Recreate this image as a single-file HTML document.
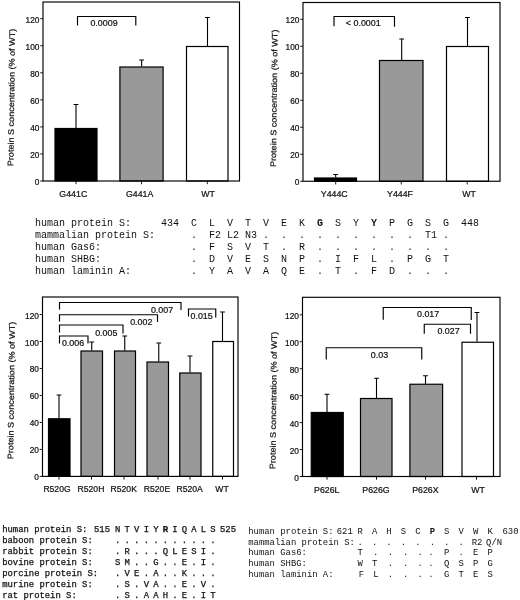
<!DOCTYPE html>
<html lang="en"><head><meta charset="utf-8"><title>Protein S concentration</title>
<style>
html,body{margin:0;padding:0;background:#fff}
body{width:520px;height:600px;overflow:hidden}
svg{display:block}
text{fill:#111}
.frame{fill:none;stroke:#000;stroke-width:1.15}
.bar{stroke:#000;stroke-width:1.2}
.err{fill:none;stroke:#000;stroke-width:1.1}
.tick{fill:none;stroke:#000;stroke-width:0.9}
.brk{fill:none;stroke:#000;stroke-width:1.15}
.yt,.xl,.bl,.ylab{stroke:#111;stroke-width:0.22}
.yt{font:8.3px "Liberation Sans", sans-serif;text-anchor:end}
.xl{font:8.8px "Liberation Sans", sans-serif;text-anchor:middle}
.bl{font:8.9px "Liberation Sans", sans-serif;text-anchor:middle}
.xl.s{font-size:8.6px}
.ylab{font:8.12px "Liberation Sans", sans-serif;text-anchor:middle}
.m1{font:10px "Liberation Mono", monospace}
.m2{font:8.9px "Liberation Mono", monospace;stroke:#111;stroke-width:0.25}
.m3{font:8.9px "Liberation Mono", monospace}
.c{text-anchor:middle}
.b{font-weight:bold}
</style></head>
<body>
<svg width="520" height="600" viewBox="0 0 520 600">
<rect width="520" height="600" fill="#fff"/>
<g class="chart">
<path class="err" d="M76 128V104.5M73.6 104.5H78.4"/>
<rect class="bar" x="55" y="128.5" width="42" height="52.5" fill="#000"/>
<path class="err" d="M141.6 66.5V60M139.2 60H144"/>
<rect class="bar" x="119.9" y="67" width="43.2" height="114" fill="#999"/>
<path class="err" d="M207.5 46V17.5M205.1 17.5H209.9"/>
<rect class="bar" x="186.5" y="46.5" width="41.5" height="134.5" fill="#fff"/>
<rect class="frame" x="43" y="2" width="196.5" height="179"/>
<path class="tick" d="M40.2 181H43"/>
<text class="yt" x="39.4" y="185">0</text>
<path class="tick" d="M40.2 153.95H43"/>
<text class="yt" x="39.4" y="157.95">20</text>
<path class="tick" d="M40.2 126.9H43"/>
<text class="yt" x="39.4" y="130.9">40</text>
<path class="tick" d="M40.2 99.85H43"/>
<text class="yt" x="39.4" y="103.85">60</text>
<path class="tick" d="M40.2 72.8H43"/>
<text class="yt" x="39.4" y="76.8">80</text>
<path class="tick" d="M40.2 45.75H43"/>
<text class="yt" x="39.4" y="49.75">100</text>
<path class="tick" d="M40.2 18.7H43"/>
<text class="yt" x="39.4" y="22.7">120</text>
<path class="tick" d="M76 181V184.2"/>
<text class="xl" x="73.3" y="197">G441C</text>
<path class="tick" d="M141.5 181V184.2"/>
<text class="xl" x="139.6" y="197">G441A</text>
<path class="tick" d="M207.3 181V184.2"/>
<text class="xl" x="208" y="197">WT</text>
<path class="brk" d="M77.5 25.5V16.5H135.8V25.5"/>
<text class="bl" x="104" y="25.6">0.0009</text>
<text class="ylab" transform="translate(14.2 97.5) rotate(-89.3) scale(1.117 1)">Protein S concentration (% of WT)</text>
</g>
<g class="chart">
<path class="err" d="M335.7 177.5V174.5M333.3 174.5H338.1"/>
<rect class="bar" x="314.5" y="178" width="42" height="3.25" fill="#000"/>
<path class="err" d="M401.7 60V39M399.3 39H404.1"/>
<rect class="bar" x="379.5" y="60.5" width="43.5" height="120.75" fill="#999"/>
<path class="err" d="M467.5 46V17.5M465.1 17.5H469.9"/>
<rect class="bar" x="446.5" y="46.5" width="42" height="134.75" fill="#fff"/>
<rect class="frame" x="303" y="2.5" width="197" height="178.75"/>
<path class="tick" d="M300.2 181.25H303"/>
<text class="yt" x="299.4" y="185.25">0</text>
<path class="tick" d="M300.2 154.25H303"/>
<text class="yt" x="299.4" y="158.25">20</text>
<path class="tick" d="M300.2 127.25H303"/>
<text class="yt" x="299.4" y="131.25">40</text>
<path class="tick" d="M300.2 100.25H303"/>
<text class="yt" x="299.4" y="104.25">60</text>
<path class="tick" d="M300.2 73.25H303"/>
<text class="yt" x="299.4" y="77.25">80</text>
<path class="tick" d="M300.2 46.25H303"/>
<text class="yt" x="299.4" y="50.25">100</text>
<path class="tick" d="M300.2 19.25H303"/>
<text class="yt" x="299.4" y="23.25">120</text>
<path class="tick" d="M335.7 181.25V184.45"/>
<text class="xl" x="334.25" y="197">Y444C</text>
<path class="tick" d="M401.25 181.25V184.45"/>
<text class="xl" x="400" y="197">Y444F</text>
<path class="tick" d="M467.2 181.25V184.45"/>
<text class="xl" x="469" y="197">WT</text>
<path class="brk" d="M334 26.3V16.5H394.5V26.7"/>
<text class="bl" x="363.25" y="25.8">&lt; 0.0001</text>
<text class="ylab" transform="translate(276.8 98.3) rotate(-89.3) scale(1.117 1)">Protein S concentration (% of WT)</text>
</g>
<g class="chart">
<path class="err" d="M59 418.25V395M56.6 395H61.4"/>
<rect class="bar" x="48.5" y="418.75" width="21.5" height="57.65" fill="#000"/>
<path class="err" d="M91.75 350.5V342M89.35 342H94.15"/>
<rect class="bar" x="81" y="351" width="21.5" height="125.4" fill="#999"/>
<path class="err" d="M124.75 350.5V336M122.35 336H127.15"/>
<rect class="bar" x="114.5" y="351" width="21" height="125.4" fill="#999"/>
<path class="err" d="M158.75 361.5V343M156.35 343H161.15"/>
<rect class="bar" x="147" y="362" width="21.5" height="114.4" fill="#999"/>
<path class="err" d="M190 372.5V356M187.6 356H192.4"/>
<rect class="bar" x="179.75" y="373" width="21.25" height="103.4" fill="#999"/>
<path class="err" d="M222.5 341V312M220.1 312H224.9"/>
<rect class="bar" x="212.75" y="341.5" width="20.75" height="134.9" fill="#fff"/>
<rect class="frame" x="42.5" y="297" width="195.5" height="179.4"/>
<path class="tick" d="M39.7 476.4H42.5"/>
<text class="yt" x="38.9" y="480.4">0</text>
<path class="tick" d="M39.7 449.42H42.5"/>
<text class="yt" x="38.9" y="453.42">20</text>
<path class="tick" d="M39.7 422.44H42.5"/>
<text class="yt" x="38.9" y="426.44">40</text>
<path class="tick" d="M39.7 395.46H42.5"/>
<text class="yt" x="38.9" y="399.46">60</text>
<path class="tick" d="M39.7 368.48H42.5"/>
<text class="yt" x="38.9" y="372.48">80</text>
<path class="tick" d="M39.7 341.5H42.5"/>
<text class="yt" x="38.9" y="345.5">100</text>
<path class="tick" d="M39.7 314.52H42.5"/>
<text class="yt" x="38.9" y="318.52">120</text>
<path class="tick" d="M59 476.4V479.6"/>
<text class="xl s" x="57" y="492">R520G</text>
<path class="tick" d="M91.5 476.4V479.6"/>
<text class="xl s" x="91" y="492">R520H</text>
<path class="tick" d="M124 476.4V479.6"/>
<text class="xl s" x="123.75" y="492">R520K</text>
<path class="tick" d="M158 476.4V479.6"/>
<text class="xl s" x="157" y="492">R520E</text>
<path class="tick" d="M190 476.4V479.6"/>
<text class="xl s" x="189.6" y="492">R520A</text>
<path class="tick" d="M222.5 476.4V479.6"/>
<text class="xl s" x="222" y="492">WT</text>
<path class="brk" d="M59.5 309.5V302.5H181V310"/>
<text class="bl" x="162" y="312.5">0.007</text>
<path class="brk" d="M59.5 321.5V314.75H157.5V322"/>
<text class="bl" x="141.25" y="324.5">0.002</text>
<path class="brk" d="M59.5 332.5V325H123V333.5"/>
<text class="bl" x="106.25" y="335.5">0.005</text>
<path class="brk" d="M59.5 343.5V336H88V343.5"/>
<text class="bl" x="73" y="345.75">0.006</text>
<path class="brk" d="M188.5 316.5V309H215.75V317.5"/>
<text class="bl" x="201.6" y="318.75">0.015</text>
<text class="ylab" transform="translate(14 390.5) rotate(-89.3) scale(1.117 1)">Protein S concentration (% of WT)</text>
</g>
<g class="chart">
<path class="err" d="M327 412V394.25M324.6 394.25H329.4"/>
<rect class="bar" x="311.25" y="412.5" width="32" height="64" fill="#000"/>
<path class="err" d="M376.5 398V378.25M374.1 378.25H378.9"/>
<rect class="bar" x="360.5" y="398.5" width="31.5" height="78" fill="#999"/>
<path class="err" d="M425.5 383.75V375.75M423.1 375.75H427.9"/>
<rect class="bar" x="409.9" y="384.25" width="32.7" height="92.25" fill="#999"/>
<path class="err" d="M477 341.75V312.5M474.6 312.5H479.4"/>
<rect class="bar" x="462" y="342.25" width="31.5" height="134.25" fill="#fff"/>
<rect class="frame" x="302.5" y="297.3" width="197.5" height="179.2"/>
<path class="tick" d="M299.7 476.5H302.5"/>
<text class="yt" x="298.9" y="480.5">0</text>
<path class="tick" d="M299.7 449.55H302.5"/>
<text class="yt" x="298.9" y="453.55">20</text>
<path class="tick" d="M299.7 422.6H302.5"/>
<text class="yt" x="298.9" y="426.6">40</text>
<path class="tick" d="M299.7 395.65H302.5"/>
<text class="yt" x="298.9" y="399.65">60</text>
<path class="tick" d="M299.7 368.7H302.5"/>
<text class="yt" x="298.9" y="372.7">80</text>
<path class="tick" d="M299.7 341.75H302.5"/>
<text class="yt" x="298.9" y="345.75">100</text>
<path class="tick" d="M299.7 314.8H302.5"/>
<text class="yt" x="298.9" y="318.8">120</text>
<path class="tick" d="M327 476.5V479.7"/>
<text class="xl" x="326.8" y="492.5">P626L</text>
<path class="tick" d="M376.5 476.5V479.7"/>
<text class="xl" x="376" y="492.5">P626G</text>
<path class="tick" d="M425.5 476.5V479.7"/>
<text class="xl" x="425.4" y="492.5">P626X</text>
<path class="tick" d="M476.5 476.5V479.7"/>
<text class="xl" x="478" y="492.5">WT</text>
<path class="brk" d="M326.25 359.5V347.75H421.75V359.5"/>
<text class="bl" x="379.5" y="357.6">0.03</text>
<path class="brk" d="M383.25 319.75V307.5H471.25V320"/>
<text class="bl" x="428.1" y="317">0.017</text>
<path class="brk" d="M424.25 333.75V324.25H470.5V333.75"/>
<text class="bl" x="448.5" y="334.25">0.027</text>
<text class="ylab" transform="translate(276.2 400.5) rotate(-89.3) scale(1.117 1)">Protein S concentration (% of WT)</text>
</g>
<text class="m1" x="34.9" y="225.5">human protein S:</text>
<text class="m1 c" x="193.9" y="225.5">C</text>
<text class="m1 c" x="211.9" y="225.5">L</text>
<text class="m1 c" x="229.9" y="225.5">V</text>
<text class="m1 c" x="247.9" y="225.5">T</text>
<text class="m1 c" x="265.9" y="225.5">V</text>
<text class="m1 c" x="283.9" y="225.5">E</text>
<text class="m1 c" x="301.9" y="225.5">K</text>
<text class="m1 c b" x="319.9" y="225.5">G</text>
<text class="m1 c" x="337.9" y="225.5">S</text>
<text class="m1 c" x="355.9" y="225.5">Y</text>
<text class="m1 c b" x="373.9" y="225.5">Y</text>
<text class="m1 c" x="391.9" y="225.5">P</text>
<text class="m1 c" x="409.9" y="225.5">G</text>
<text class="m1 c" x="427.9" y="225.5">S</text>
<text class="m1 c" x="445.9" y="225.5">G</text>
<text class="m1 c" x="169.9" y="225.5">434</text>
<text class="m1 c" x="469.9" y="225.5">448</text>
<text class="m1" x="34.9" y="237.7">mammalian protein S:</text>
<text class="m1 c" x="193.9" y="237.7">.</text>
<text class="m1 c" x="214.9" y="237.7">F2</text>
<text class="m1 c" x="232.9" y="237.7">L2</text>
<text class="m1 c" x="250.9" y="237.7">N3</text>
<text class="m1 c" x="265.9" y="237.7">.</text>
<text class="m1 c" x="283.9" y="237.7">.</text>
<text class="m1 c" x="301.9" y="237.7">.</text>
<text class="m1 c" x="319.9" y="237.7">.</text>
<text class="m1 c" x="337.9" y="237.7">.</text>
<text class="m1 c" x="355.9" y="237.7">.</text>
<text class="m1 c" x="373.9" y="237.7">.</text>
<text class="m1 c" x="391.9" y="237.7">.</text>
<text class="m1 c" x="409.9" y="237.7">.</text>
<text class="m1 c" x="430.9" y="237.7">T1</text>
<text class="m1 c" x="445.9" y="237.7">.</text>
<text class="m1" x="34.9" y="250">human Gas6:</text>
<text class="m1 c" x="193.9" y="250">.</text>
<text class="m1 c" x="211.9" y="250">F</text>
<text class="m1 c" x="229.9" y="250">S</text>
<text class="m1 c" x="247.9" y="250">V</text>
<text class="m1 c" x="265.9" y="250">T</text>
<text class="m1 c" x="283.9" y="250">.</text>
<text class="m1 c" x="301.9" y="250">R</text>
<text class="m1 c" x="319.9" y="250">.</text>
<text class="m1 c" x="337.9" y="250">.</text>
<text class="m1 c" x="355.9" y="250">.</text>
<text class="m1 c" x="373.9" y="250">.</text>
<text class="m1 c" x="391.9" y="250">.</text>
<text class="m1 c" x="409.9" y="250">.</text>
<text class="m1 c" x="427.9" y="250">.</text>
<text class="m1 c" x="445.9" y="250">.</text>
<text class="m1" x="34.9" y="262">human SHBG:</text>
<text class="m1 c" x="193.9" y="262">.</text>
<text class="m1 c" x="211.9" y="262">D</text>
<text class="m1 c" x="229.9" y="262">V</text>
<text class="m1 c" x="247.9" y="262">E</text>
<text class="m1 c" x="265.9" y="262">S</text>
<text class="m1 c" x="283.9" y="262">N</text>
<text class="m1 c" x="301.9" y="262">P</text>
<text class="m1 c" x="319.9" y="262">.</text>
<text class="m1 c" x="337.9" y="262">I</text>
<text class="m1 c" x="355.9" y="262">F</text>
<text class="m1 c" x="373.9" y="262">L</text>
<text class="m1 c" x="391.9" y="262">.</text>
<text class="m1 c" x="409.9" y="262">P</text>
<text class="m1 c" x="427.9" y="262">G</text>
<text class="m1 c" x="445.9" y="262">T</text>
<text class="m1" x="34.9" y="274">human laminin A:</text>
<text class="m1 c" x="193.9" y="274">.</text>
<text class="m1 c" x="211.9" y="274">Y</text>
<text class="m1 c" x="229.9" y="274">A</text>
<text class="m1 c" x="247.9" y="274">V</text>
<text class="m1 c" x="265.9" y="274">A</text>
<text class="m1 c" x="283.9" y="274">Q</text>
<text class="m1 c" x="301.9" y="274">E</text>
<text class="m1 c" x="319.9" y="274">.</text>
<text class="m1 c" x="337.9" y="274">T</text>
<text class="m1 c" x="355.9" y="274">.</text>
<text class="m1 c" x="373.9" y="274">F</text>
<text class="m1 c" x="391.9" y="274">D</text>
<text class="m1 c" x="409.9" y="274">.</text>
<text class="m1 c" x="427.9" y="274">.</text>
<text class="m1 c" x="445.9" y="274">.</text>
<text class="m2" x="2.2" y="532">human protein S:</text>
<text class="m2 c" x="117.7" y="532">N</text>
<text class="m2 c" x="127.23" y="532">T</text>
<text class="m2 c" x="136.76" y="532">V</text>
<text class="m2 c" x="146.29" y="532">I</text>
<text class="m2 c" x="155.82" y="532">Y</text>
<text class="m2 c b" x="165.35" y="532">R</text>
<text class="m2 c" x="174.88" y="532">I</text>
<text class="m2 c" x="184.41" y="532">Q</text>
<text class="m2 c" x="193.94" y="532">A</text>
<text class="m2 c" x="203.47" y="532">L</text>
<text class="m2 c" x="213" y="532">S</text>
<text class="m2 c" x="102" y="532">515</text>
<text class="m2 c" x="228" y="532">525</text>
<text class="m2" x="2.2" y="543">baboon protein S:</text>
<text class="m2 c" x="117.7" y="543">.</text>
<text class="m2 c" x="127.23" y="543">.</text>
<text class="m2 c" x="136.76" y="543">.</text>
<text class="m2 c" x="146.29" y="543">.</text>
<text class="m2 c" x="155.82" y="543">.</text>
<text class="m2 c" x="165.35" y="543">.</text>
<text class="m2 c" x="174.88" y="543">.</text>
<text class="m2 c" x="184.41" y="543">.</text>
<text class="m2 c" x="193.94" y="543">.</text>
<text class="m2 c" x="203.47" y="543">.</text>
<text class="m2 c" x="213" y="543">.</text>
<text class="m2" x="2.2" y="554">rabbit protein S:</text>
<text class="m2 c" x="117.7" y="554">.</text>
<text class="m2 c" x="127.23" y="554">R</text>
<text class="m2 c" x="136.76" y="554">.</text>
<text class="m2 c" x="146.29" y="554">.</text>
<text class="m2 c" x="155.82" y="554">.</text>
<text class="m2 c" x="165.35" y="554">Q</text>
<text class="m2 c" x="174.88" y="554">L</text>
<text class="m2 c" x="184.41" y="554">E</text>
<text class="m2 c" x="193.94" y="554">S</text>
<text class="m2 c" x="203.47" y="554">I</text>
<text class="m2 c" x="213" y="554">.</text>
<text class="m2" x="2.2" y="564.7">bovine protein S:</text>
<text class="m2 c" x="117.7" y="564.7">S</text>
<text class="m2 c" x="127.23" y="564.7">M</text>
<text class="m2 c" x="136.76" y="564.7">.</text>
<text class="m2 c" x="146.29" y="564.7">.</text>
<text class="m2 c" x="155.82" y="564.7">G</text>
<text class="m2 c" x="165.35" y="564.7">.</text>
<text class="m2 c" x="174.88" y="564.7">.</text>
<text class="m2 c" x="184.41" y="564.7">E</text>
<text class="m2 c" x="193.94" y="564.7">.</text>
<text class="m2 c" x="203.47" y="564.7">I</text>
<text class="m2 c" x="213" y="564.7">.</text>
<text class="m2" x="2.2" y="575.7">porcine protein S:</text>
<text class="m2 c" x="117.7" y="575.7">.</text>
<text class="m2 c" x="127.23" y="575.7">V</text>
<text class="m2 c" x="136.76" y="575.7">E</text>
<text class="m2 c" x="146.29" y="575.7">.</text>
<text class="m2 c" x="155.82" y="575.7">A</text>
<text class="m2 c" x="165.35" y="575.7">.</text>
<text class="m2 c" x="174.88" y="575.7">.</text>
<text class="m2 c" x="184.41" y="575.7">K</text>
<text class="m2 c" x="193.94" y="575.7">.</text>
<text class="m2 c" x="203.47" y="575.7">.</text>
<text class="m2 c" x="213" y="575.7">.</text>
<text class="m2" x="2.2" y="586.7">murine protein S:</text>
<text class="m2 c" x="117.7" y="586.7">.</text>
<text class="m2 c" x="127.23" y="586.7">S</text>
<text class="m2 c" x="136.76" y="586.7">.</text>
<text class="m2 c" x="146.29" y="586.7">V</text>
<text class="m2 c" x="155.82" y="586.7">A</text>
<text class="m2 c" x="165.35" y="586.7">.</text>
<text class="m2 c" x="174.88" y="586.7">.</text>
<text class="m2 c" x="184.41" y="586.7">E</text>
<text class="m2 c" x="193.94" y="586.7">.</text>
<text class="m2 c" x="203.47" y="586.7">V</text>
<text class="m2 c" x="213" y="586.7">.</text>
<text class="m2" x="2.2" y="597.7">rat protein S:</text>
<text class="m2 c" x="117.7" y="597.7">.</text>
<text class="m2 c" x="127.23" y="597.7">S</text>
<text class="m2 c" x="136.76" y="597.7">.</text>
<text class="m2 c" x="146.29" y="597.7">A</text>
<text class="m2 c" x="155.82" y="597.7">A</text>
<text class="m2 c" x="165.35" y="597.7">H</text>
<text class="m2 c" x="174.88" y="597.7">.</text>
<text class="m2 c" x="184.41" y="597.7">E</text>
<text class="m2 c" x="193.94" y="597.7">.</text>
<text class="m2 c" x="203.47" y="597.7">I</text>
<text class="m2 c" x="213" y="597.7">T</text>
<text class="m3" x="248.3" y="533.8">human protein S:</text>
<text class="m3 c" x="360.1" y="533.8">R</text>
<text class="m3 c" x="374.54" y="533.8">A</text>
<text class="m3 c" x="388.98" y="533.8">H</text>
<text class="m3 c" x="403.42" y="533.8">S</text>
<text class="m3 c" x="417.86" y="533.8">C</text>
<text class="m3 c b" x="432.3" y="533.8">P</text>
<text class="m3 c" x="446.74" y="533.8">S</text>
<text class="m3 c" x="461.18" y="533.8">V</text>
<text class="m3 c" x="475.62" y="533.8">W</text>
<text class="m3 c" x="490.06" y="533.8">K</text>
<text class="m3 c" x="344.8" y="533.8">621</text>
<text class="m3 c" x="510.5" y="533.8">630</text>
<text class="m3" x="248.3" y="544.6">mammalian protein S:</text>
<text class="m3 c" x="360.1" y="544.6">.</text>
<text class="m3 c" x="374.54" y="544.6">.</text>
<text class="m3 c" x="388.98" y="544.6">.</text>
<text class="m3 c" x="403.42" y="544.6">.</text>
<text class="m3 c" x="417.86" y="544.6">.</text>
<text class="m3 c" x="432.3" y="544.6">.</text>
<text class="m3 c" x="446.74" y="544.6">.</text>
<text class="m3 c" x="461.18" y="544.6">.</text>
<text class="m3 c" x="477.12" y="544.6">R2</text>
<text class="m3 c" x="494.06" y="544.6">Q/N</text>
<text class="m3" x="248.3" y="555.4">human Gas6:</text>
<text class="m3 c" x="360.1" y="555.4">T</text>
<text class="m3 c" x="375.74" y="555.4">.</text>
<text class="m3 c" x="390.48" y="555.4">.</text>
<text class="m3 c" x="405.62" y="555.4">.</text>
<text class="m3 c" x="420.06" y="555.4">.</text>
<text class="m3 c" x="430.8" y="555.4">.</text>
<text class="m3 c" x="446.74" y="555.4">P</text>
<text class="m3 c" x="461.18" y="555.4">.</text>
<text class="m3 c" x="475.62" y="555.4">E</text>
<text class="m3 c" x="490.06" y="555.4">P</text>
<text class="m3" x="248.3" y="566.2">human SHBG:</text>
<text class="m3 c" x="360.1" y="566.2">W</text>
<text class="m3 c" x="374.54" y="566.2">T</text>
<text class="m3 c" x="390.48" y="566.2">.</text>
<text class="m3 c" x="405.62" y="566.2">.</text>
<text class="m3 c" x="420.06" y="566.2">.</text>
<text class="m3 c" x="430.8" y="566.2">.</text>
<text class="m3 c" x="446.74" y="566.2">Q</text>
<text class="m3 c" x="461.18" y="566.2">S</text>
<text class="m3 c" x="475.62" y="566.2">P</text>
<text class="m3 c" x="490.06" y="566.2">G</text>
<text class="m3" x="248.3" y="577">human laminin A:</text>
<text class="m3 c" x="361.4" y="577">F</text>
<text class="m3 c" x="375.84" y="577">L</text>
<text class="m3 c" x="390.48" y="577">.</text>
<text class="m3 c" x="405.62" y="577">.</text>
<text class="m3 c" x="420.06" y="577">.</text>
<text class="m3 c" x="430.8" y="577">.</text>
<text class="m3 c" x="446.74" y="577">G</text>
<text class="m3 c" x="461.18" y="577">T</text>
<text class="m3 c" x="475.62" y="577">E</text>
<text class="m3 c" x="490.06" y="577">S</text>
</svg>
</body></html>
